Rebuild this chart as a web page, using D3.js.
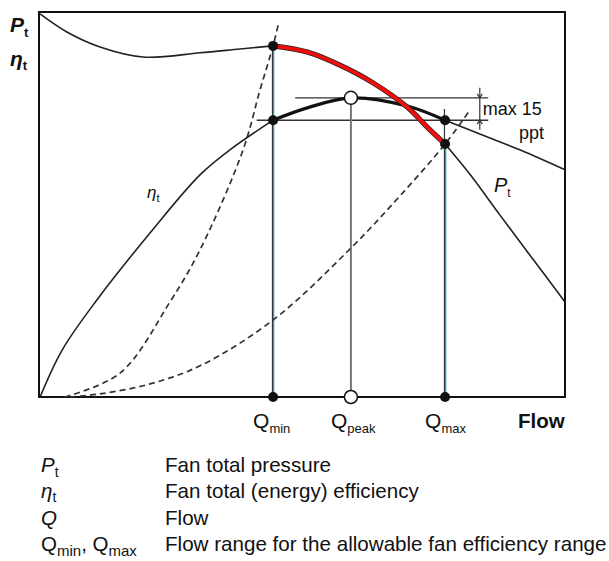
<!DOCTYPE html>
<html><head><meta charset="utf-8">
<script src="https://cdn.jsdelivr.net/npm/d3@7"></script>
<style>
body{margin:0;background:#fff}
text{font-family:"Liberation Sans",Arial,sans-serif;fill:#111}
</style>
</head><body><svg id="chart" width="609" height="561"></svg>
<script>
// Flow at the operating limits and at peak efficiency (% of plotted flow)
const qMin = 44.5, qPeak = 59.3, qMax = 77.2;
// Efficiency at peak and at the allowed lower limit (% of plotted height)
const etaPeak = 77.7, etaLimit = 71.9;

// Fan total pressure curve: below Qmin, inside the range, above Qmax
const ptLow   = [[0.2,99.5],[5.3,94.8],[11.6,90.9],[19.8,88.3],[30.6,89.4],[38.2,90.4],[44.5,91.2]];
const ptRange = [[44.5,91.2],[51.0,89.6],[57.2,86.2],[63.5,81.6],[70.0,75.3],[73.8,70.1],[77.2,65.7]];
const ptHigh  = [[77.2,65.7],[82.0,57.7],[87.6,47.3],[93.3,36.9],[100,24.7]];

// Fan total efficiency curve
const etaLow   = [[0.2,0],[4.4,12.2],[11.0,25.2],[21.1,42.6],[30.6,57.7],[36.3,64.2],[44.5,71.9]];
const etaRange = [[44.5,71.9],[51.0,75.1],[59.3,77.7],[70.0,75.6],[77.2,71.9]];
const etaHigh  = [[77.2,71.9],[83.8,68.3],[91.4,64.2],[100,59.0]];

// System curves through the pressure at Qmin and at Qmax
const sysMin = [[4.9,0],[15.4,6.2],[24.9,24.7],[30.6,38.2],[38.8,64.2],[42.0,79.7],[44.5,91.2],[45.6,97.4]];
const sysMax = [[5.9,0],[11.6,0.8],[21.1,3.4],[30.6,8.1],[44.5,20.0],[59.1,38.4],[68.6,52.2],[77.2,65.7],[81.9,74.5]];

// Reference lines and the tolerance bracket
const hLinePeak  = [48.7, 85.4];
const hLineLimit = [41.4, 85.4];
const bracketX = 83.8, bracketSpan = [69.4, 80.3];

// Legend rows
const legendSymbols = ["Pt", "ηt", "Q", "Qrange"];
const legendTexts = ["Fan total pressure", "Fan total (energy) efficiency", "Flow",
                     "Flow range for the allowable fan efficiency range"];

const svg = d3.select("#chart");
const x = d3.scaleLinear().domain([0, 100]).range([39, 565]);
const y = d3.scaleLinear().domain([0, 100]).range([397, 12]);
const line = d3.line().x(d => x(d[0])).y(d => y(d[1])).curve(d3.curveCatmullRom.alpha(0.5));

// Plot frame
svg.append("rect")
  .attr("x", x(0)).attr("y", y(100))
  .attr("width", x(100) - x(0)).attr("height", y(0) - y(100))
  .attr("fill", "none").attr("stroke", "#111").attr("stroke-width", 2);

// Horizontal reference lines
[[hLinePeak, etaPeak], [hLineLimit, etaLimit]].forEach(([span, v]) => {
  svg.append("line")
    .attr("x1", x(span[0])).attr("x2", x(span[1]))
    .attr("y1", y(v)).attr("y2", y(v))
    .attr("stroke", "#333").attr("stroke-width", 1.4);
});

// Vertical markers
svg.append("line").attr("x1", x(qPeak)).attr("x2", x(qPeak))
  .attr("y1", y(etaPeak)).attr("y2", y(0))
  .attr("stroke", "#777").attr("stroke-width", 2);

function flowMarker(q, top, blueTop) {
  svg.append("line").attr("x1", x(q) - 0.6).attr("x2", x(q) - 0.6)
    .attr("y1", y(top)).attr("y2", y(0))
    .attr("stroke", "#333").attr("stroke-width", 1.2);
  svg.append("line").attr("x1", x(q) + 0.6).attr("x2", x(q) + 0.6)
    .attr("y1", y(blueTop)).attr("y2", y(0))
    .attr("stroke", "#1aa3dc").attr("stroke-width", 1.3);
}
flowMarker(qMin, ptRange[0][1], ptRange[0][1]);
flowMarker(qMax, 74.8, ptRange[ptRange.length - 1][1]);

// System curves (dashed)
[sysMin, sysMax].forEach(d => {
  svg.append("path").attr("d", line(d)).attr("fill", "none")
    .attr("stroke", "#333").attr("stroke-width", 1.7)
    .attr("stroke-dasharray", "6,4");
});

// Efficiency curve
[etaLow, etaHigh].forEach(d => {
  svg.append("path").attr("d", line(d)).attr("fill", "none")
    .attr("stroke", "#222").attr("stroke-width", 1.6);
});
svg.append("path").attr("d", line(etaRange)).attr("fill", "none")
  .attr("stroke", "#111").attr("stroke-width", 3.2);

// Pressure curve
[ptLow, ptHigh].forEach(d => {
  svg.append("path").attr("d", line(d)).attr("fill", "none")
    .attr("stroke", "#222").attr("stroke-width", 1.6);
});
svg.append("path").attr("d", line(ptRange)).attr("fill", "none")
  .attr("stroke", "#222").attr("stroke-width", 5.2);
svg.append("path").attr("d", line(ptRange)).attr("fill", "none")
  .attr("stroke", "#f20d0d").attr("stroke-width", 3.8);

// Tolerance bracket with arrowheads
const bx = x(bracketX);
svg.append("line").attr("x1", bx).attr("x2", bx)
  .attr("y1", y(bracketSpan[1])).attr("y2", y(bracketSpan[0]))
  .attr("stroke", "#333").attr("stroke-width", 1.2);
const ah = 4;
svg.append("path")
  .attr("d", `M${bx - 2.5},${y(etaPeak) - ah}L${bx},${y(etaPeak)}L${bx + 2.5},${y(etaPeak) - ah}`)
  .attr("fill", "none").attr("stroke", "#333").attr("stroke-width", 1.2);
svg.append("path")
  .attr("d", `M${bx - 2.5},${y(etaLimit) + ah}L${bx},${y(etaLimit)}L${bx + 2.5},${y(etaLimit) + ah}`)
  .attr("fill", "none").attr("stroke", "#333").attr("stroke-width", 1.2);
svg.append("text").attr("x", bx + 3).attr("y", 115).attr("font-size", 18).text("max 15");
svg.append("text").attr("x", 544).attr("y", 139).attr("font-size", 18)
  .attr("text-anchor", "end").text("ppt");

// Operating points
const dots = [[qMin, ptRange[0][1]], [qMin, etaLimit], [qMax, etaLimit],
              [qMax, ptRange[ptRange.length - 1][1]], [qMin, 0], [qMax, 0]];
svg.selectAll("circle.pt").data(dots).join("circle").attr("class", "pt")
  .attr("cx", d => x(d[0])).attr("cy", d => y(d[1])).attr("r", 5).attr("fill", "#111");
svg.selectAll("circle.peak").data([[qPeak, etaPeak], [qPeak, 0]]).join("circle").attr("class", "peak")
  .attr("cx", d => x(d[0])).attr("cy", d => y(d[1])).attr("r", 6.5)
  .attr("fill", "#fff").attr("stroke", "#111").attr("stroke-width", 1.5);

// Labelled symbol helper: main glyph with a subscript
function symbol(g, px, py, main, sub, opts) {
  const t = g.append("text").attr("x", px).attr("y", py)
    .attr("font-size", opts.size)
    .attr("font-style", opts.italic ? "italic" : "normal")
    .attr("font-weight", opts.bold ? "bold" : "normal");
  t.append("tspan").text(main);
  if (sub) t.append("tspan").attr("font-size", opts.subSize).attr("dy", opts.subDy)
    .attr("font-style", "normal").text(sub);
  return t;
}

// Axis titles
symbol(svg, 10, 32, "P", "t", {size: 21, subSize: 13, subDy: 5, italic: true, bold: true});
symbol(svg, 10, 66, "η", "t", {size: 21, subSize: 13, subDy: 4, italic: true, bold: true});
svg.append("text").attr("x", 518).attr("y", 428).attr("font-size", 20.5)
  .attr("font-weight", "bold").text("Flow");

// Flow tick labels
[[qMin, "min"], [qPeak, "peak"], [qMax, "max"]].forEach(([q, s]) => {
  symbol(svg, x(q) - 20, 428, "Q", s, {size: 21, subSize: 13, subDy: 5});
});

// Curve labels
symbol(svg, 147, 198, "η", "t", {size: 17, subSize: 11, subDy: 4, italic: true});
symbol(svg, 494, 192, "P", "t", {size: 20, subSize: 12, subDy: 5, italic: true});

// Legend
const rowY = [472, 498, 525, 551];
const lg = svg.append("g");
legendSymbols.forEach((s, i) => {
  const py = rowY[i];
  if (s === "Pt") symbol(lg, 41, py, "P", "t", {size: 20.5, subSize: 14, subDy: 5, italic: true});
  else if (s === "ηt") symbol(lg, 41, py, "η", "t", {size: 20.5, subSize: 14, subDy: 4, italic: true});
  else if (s === "Q") symbol(lg, 41, py, "Q", null, {size: 20.5, italic: true});
  else {
    const t = lg.append("text").attr("x", 41).attr("y", py).attr("font-size", 20.5);
    t.append("tspan").text("Q");
    t.append("tspan").attr("font-size", 15).attr("dy", 5).text("min");
    t.append("tspan").attr("dy", -5).text(", Q");
    t.append("tspan").attr("font-size", 15).attr("dy", 5).text("max");
  }
  lg.append("text").attr("x", 165).attr("y", py).attr("font-size", 20.6).text(legendTexts[i]);
});
</script>
</body></html>
